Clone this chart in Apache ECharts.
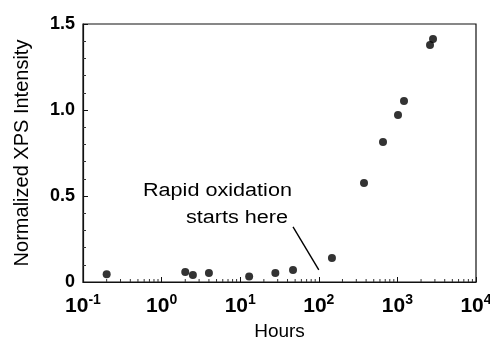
<!DOCTYPE html>
<html>
<head>
<meta charset="utf-8">
<script src="https://cdn.jsdelivr.net/npm/echarts@6/dist/echarts.min.js"></script>
<style>
  html, body { margin: 0; padding: 0; background: #fff; }
  #chart { width: 490px; height: 339px; }
</style>
</head>
<body>
<div id="chart"></div>
<script>
// measured points (hours vs normalized XPS intensity)
const hours = [0.2, 2.0, 2.5, 4.0, 13, 28, 47, 147, 376, 656, 1018, 1213, 2600, 2840]
const intensity = [0.045, 0.058, 0.041, 0.052, 0.032, 0.052, 0.07, 0.14, 0.576, 0.814, 0.971, 1.052, 1.378, 1.413]

const yTicks = [0, 0.5, 1.0, 1.5]
const xDecades = [-1, 0, 1, 2, 3, 4]

// pointer line for the annotation: [hours, intensity]
const arrowFrom = [47, 0.32]
const arrowTo = [100, 0.07]

// log minor ticks 2..9 within each decade (axis decoration only)
const minorX = []
for (let k = xDecades[0]; k < xDecades[xDecades.length - 1]; k++) {
  for (let m = 2; m <= 9; m++) minorX.push([m * Math.pow(10, k), 0])
}

const chart = echarts.init(document.getElementById('chart'), null, { renderer: 'canvas' })

const font = 'Liberation Sans, Arial, Helvetica, sans-serif'

const option = {
  backgroundColor: '#fff',
  animation: false,
  grid: {
    left: 83, right: 14, top: 24, bottom: 57,
    containLabel: false,
    outerBoundsMode: 'none',
    show: true,
    borderColor: '#111',
    borderWidth: 1.2
  },
  xAxis: {
    type: 'log',
    logBase: 10,
    min: Math.pow(10, xDecades[0]),
    max: Math.pow(10, xDecades[xDecades.length - 1]),
    name: 'Hours',
    nameLocation: 'middle',
    nameGap: 40,
    nameTextStyle: { color: '#000', fontSize: 19, fontFamily: font },
    axisLine: { show: true, onZero: false, lineStyle: { color: '#111', width: 1.2 } },
    axisTick: { show: true, inside: true, length: 5, lineStyle: { color: '#111' } },
    splitLine: { show: false },
    axisLabel: {
      margin: 11,
      color: '#000',
      fontFamily: font,
      formatter: v => '{b|10}{s|' + Math.round(Math.log10(v)) + '}',
      rich: {
        b: { fontSize: 21, fontWeight: 'bold', fontFamily: font, color: '#000', lineHeight: 24, verticalAlign: 'bottom' },
        s: { fontSize: 14, fontWeight: 'bold', fontFamily: font, color: '#000', lineHeight: 14, verticalAlign: 'top' }
      }
    }
  },
  yAxis: {
    type: 'value',
    min: 0,
    max: 1.5,
    interval: 0.5,
    name: 'Normalized XPS Intensity',
    nameLocation: 'middle',
    nameGap: 51,
    nameTextStyle: { color: '#000', fontSize: 20, fontFamily: font },
    axisLine: { show: true, lineStyle: { color: '#111', width: 1.2 } },
    axisTick: { show: true, inside: true, length: 5, lineStyle: { color: '#111' } },
    minorTick: { show: true, splitNumber: 5, length: 3, lineStyle: { color: '#333' } },
    splitLine: { show: false },
    axisLabel: {
      margin: 8,
      color: '#000',
      fontSize: 18,
      fontWeight: 'bold',
      fontFamily: font,
      formatter: v => (yTicks.indexOf(v) >= 0 ? (v === 0 ? '0' : v.toFixed(1)) : '')
    }
  },
  series: [
    {
      type: 'scatter',
      data: hours.map((h, i) => [h, intensity[i]]),
      symbol: 'circle',
      symbolSize: 8,
      itemStyle: { color: '#000' },
      markLine: {
        silent: true,
        symbol: ['none', 'none'],
        label: { show: false },
        lineStyle: { color: '#000', width: 1.4, type: 'solid' },
        data: [[{ coord: arrowFrom }, { coord: arrowTo }]]
      }
    },
    {
      type: 'custom',
      silent: true,
      data: minorX,
      renderItem: (params, api) => {
        const p = api.coord([api.value(0), 0])
        return {
          type: 'line',
          shape: { x1: p[0], y1: p[1], x2: p[0], y2: p[1] - 3 },
          style: { stroke: '#333', lineWidth: 1 }
        }
      }
    }
  ],
  graphic: [
    {
      type: 'text', x: 143, y: 182, scaleX: 1.2,
      style: { text: 'Rapid oxidation', fontSize: 18, fontFamily: font, fill: '#000', align: 'left', verticalAlign: 'top' }
    },
    {
      type: 'text', x: 186, y: 209, scaleX: 1.2,
      style: { text: 'starts here', fontSize: 18, fontFamily: font, fill: '#000', align: 'left', verticalAlign: 'top' }
    }
  ]
}

chart.setOption(option)
</script>
</body>
</html>
